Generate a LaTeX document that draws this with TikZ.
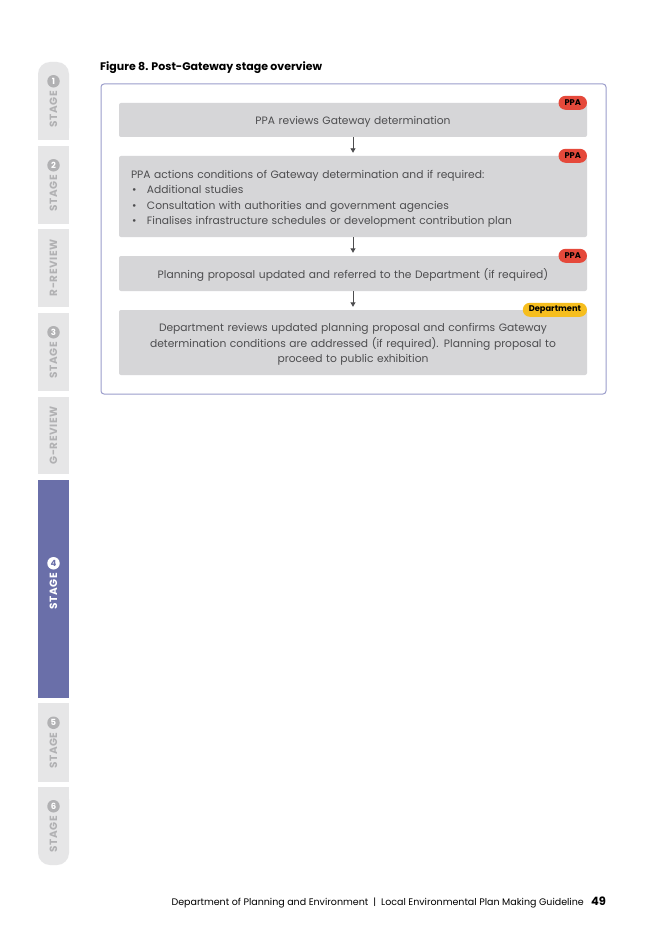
\documentclass[tikz,border=0pt]{standalone}
\usepackage{fontspec}
\setmainfont{Poppins}
\usetikzlibrary{positioning,arrows.meta}

\definecolor{tabgray}{HTML}{E6E6E7}
\definecolor{tabtext}{HTML}{B1B1B3}
\definecolor{activetab}{HTML}{6A6FA9}
\definecolor{framecol}{HTML}{9B9DCB}
\definecolor{boxgray}{HTML}{D6D6D8}
\definecolor{bodytext}{HTML}{4D4D4F}
\definecolor{ppared}{HTML}{E5493B}
\definecolor{deptyellow}{HTML}{F6BE1E}
\newcommand{\boxstrut}{\rule{0pt}{12.5pt}}

\begin{document}
\begin{tikzpicture}[x=1pt, y=-1pt, >={Triangle[width=5pt,length=4.5pt]},
  stepbox/.style={fill=boxgray, rounded corners=2pt, minimum width=468pt,
    text width=444pt, align=center, inner sep=0pt, text=bodytext,
    font=\fontsize{10.7}{15.5}\selectfont},
  badge/.style={rounded corners=7pt, minimum height=14pt, inner xsep=6pt,
    inner ysep=0pt, anchor=east, text=black, font=\fontsize{8.3}{8}\selectfont\bfseries},
  flow/.style={->, draw=bodytext, line width=0.9pt, shorten >=3pt},
  tablabel/.style={rotate=90, text=tabtext, inner sep=0pt,
    font=\fontsize{10.5}{10}\selectfont\bfseries\addfontfeatures{LetterSpace=5}},
  numdot/.style={circle, fill=tabtext, text=white, inner sep=0pt, minimum size=12.5pt,
    font=\fontsize{8.5}{8}\selectfont\bfseries}]
\useasboundingbox (0,0) rectangle (656,928);
\fill[white] (0,0) rectangle (656,928);

% side tabs
\fill[tabgray, rounded corners=12pt] (38,62) rectangle (69,140);
\fill[tabgray, rounded corners=12pt] (38,787) rectangle (69,865);
\foreach \ya/\yb in {100/140,146/224,229/307,313/391,397/474,703/782,787/830}
  \fill[tabgray] (38,\ya) rectangle (69,\yb);
\fill[activetab] (38,480) rectangle (69,698);
\foreach \num/\yc in {1/101, 2/185, 3/352, 5/742.5, 6/826} {
  \node[tablabel] (t\num) at (53.5,\yc+8) {STAGE};
  \node[numdot, above=3pt of t\num.east] (n\num) {\num};
}
\foreach \lab/\yc/\nm in {R-REVIEW/268/rrev, G-REVIEW/435.5/grev}
  \node[tablabel] (\nm) at (53.5,\yc) {\lab};
\node[tablabel, text=white] (t4) at (53.5,591) {STAGE};
\node[numdot, fill=white, text=activetab, above=3pt of t4.east] (n4) {4};

% figure
\node[anchor=base west, inner sep=0pt, font=\fontsize{11}{12}\selectfont\bfseries] (title)
  at (100,71) {Figure 8. Post-Gateway stage overview};
\draw[framecol, line width=1pt, rounded corners=3pt] (101,84) rectangle (606,394);

\node[stepbox, minimum height=34pt] (s1) at (353,120) {\boxstrut PPA reviews Gateway determination};
\node[stepbox, minimum height=81pt, align=left] (s2) at (353,196.5)
  {\boxstrut PPA actions conditions of Gateway determination and if required:\\
   \hspace*{1pt}\makebox[15pt][l]{\textbullet}Additional studies\\
   \hspace*{1pt}\makebox[15pt][l]{\textbullet}Consultation with authorities and government agencies\\
   \hspace*{1pt}\makebox[15pt][l]{\textbullet}Finalises infrastructure schedules or development contribution plan};
\node[stepbox, minimum height=35pt] (s3) at (353,273.5)
  {\boxstrut Planning proposal updated and referred to the Department (if required)};
\node[stepbox, minimum height=65pt] (s4) at (353,342.5)
  {\boxstrut Department reviews updated planning proposal and confirms Gateway\\
   determination conditions are addressed (if required). Planning proposal to\\
   proceed to public exhibition};

\node[badge, fill=ppared] (b1) at (s1.north east) {PPA};
\node[badge, fill=ppared] (b2) at (s2.north east) {PPA};
\node[badge, fill=ppared] (b3) at (s3.north east) {PPA};
\node[badge, fill=deptyellow] (b4) at (s4.north east) {Department};

\draw[flow] (s1) -- (s2);
\draw[flow] (s2) -- (s3);
\draw[flow] (s3) -- (s4);

% footer
\node[anchor=base east, inner sep=0pt, font=\fontsize{9.5}{10}\selectfont] (foot) at (584,905)
  {Department of Planning and Environment\ \ |\ \ Local Environmental Plan Making Guideline};
\node[anchor=base west, inner sep=0pt, font=\fontsize{11.5}{12}\selectfont\bfseries] (page)
  at (591,905) {49};
\end{tikzpicture}
\end{document}
